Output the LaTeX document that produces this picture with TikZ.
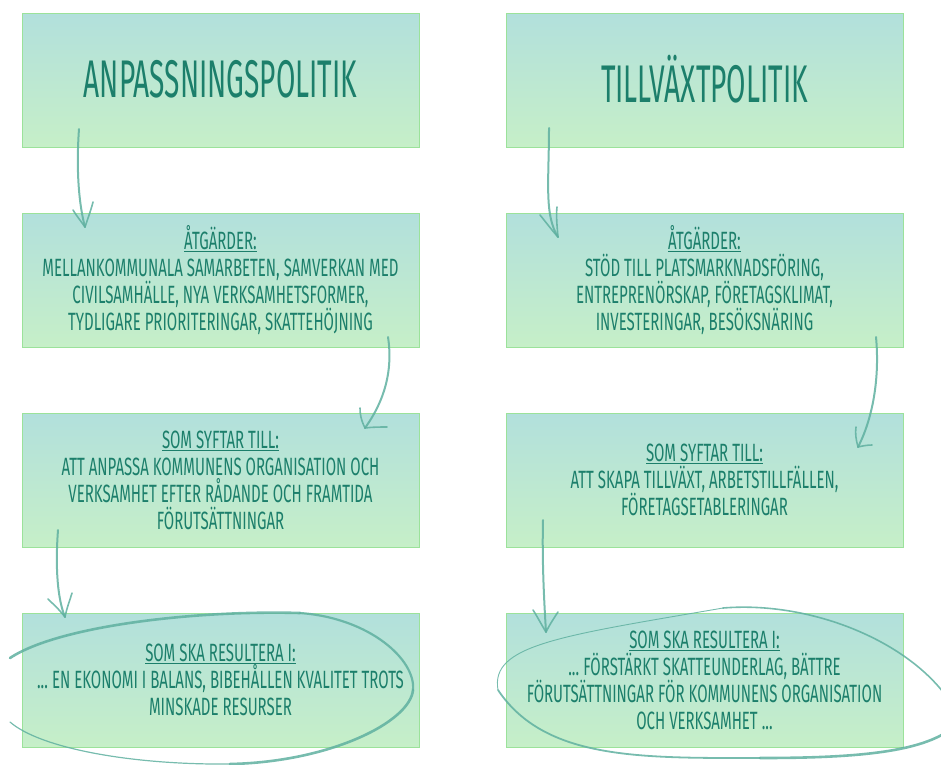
\documentclass[tikz,border=0pt]{standalone}
\usepackage{fontspec}
\setmainfont{Fira Sans}[FakeStretch=0.6]
\newfontfamily\titlefont{Fira Sans}[FakeStretch=0.53]
\definecolor{boxtop}{HTML}{B2E0DC}
\definecolor{boxbot}{HTML}{C6EFC8}
\definecolor{boxline}{HTML}{9BE29A}
\definecolor{txt}{HTML}{1C7F6B}
\definecolor{arr}{HTML}{5FB0A0}
\begin{document}
\begin{tikzpicture}[x=1pt,y=-1pt,
  panel/.style={draw=boxline, line width=1pt, top color=boxtop, bottom color=boxbot,
    minimum width=397pt, minimum height=134pt, inner sep=0pt, align=center,
    text=txt, font=\fontsize{25}{27}\selectfont},
  titlebox/.style={panel, font=\titlefont\fontsize{53}{60}\selectfont},
  hand/.style={draw=arr, opacity=0.85, line width=2pt, line cap=round},
  barb/.style={draw=arr, opacity=0.85, line width=1.6pt, line cap=round},
  loop/.style={draw=arr, opacity=0.85, line cap=round}]
\useasboundingbox (0,0) rectangle (941,764);
\clip (0,0) rectangle (941,764);
\newcommand{\hd}[1]{\underline{#1}}

\node[titlebox] (l1) at (220.5,80) {\raisebox{3pt}{ANPASSNINGSPOLITIK}};
\node[panel] (l2) at (220.5,280) {\hd{ÅTGÄRDER:}\\MELLANKOMMUNALA SAMARBETEN, SAMVERKAN MED\\CIVILSAMHÄLLE, NYA VERKSAMHETSFORMER,\\TYDLIGARE PRIORITERINGAR, SKATTEHÖJNING};
\node[panel] (l3) at (220.5,480) {\hd{SOM SYFTAR TILL:}\\ATT ANPASSA KOMMUNENS ORGANISATION OCH\\VERKSAMHET EFTER RÅDANDE OCH FRAMTIDA\\FÖRUTSÄTTNINGAR};
\node[panel] (l4) at (220.5,680) {\hd{SOM SKA RESULTERA I:}\\...\,EN EKONOMI I BALANS, BIBEHÅLLEN KVALITET TROTS\\MINSKADE RESURSER};

\node[titlebox] (r1) at (704.5,80) {\raisebox{3pt}{TILLVÄXTPOLITIK}};
\node[panel] (r2) at (704.5,280) {\hd{ÅTGÄRDER:}\\STÖD TILL PLATSMARKNADSFÖRING,\\ENTREPRENÖRSKAP, FÖRETAGSKLIMAT,\\INVESTERINGAR, BESÖKSNÄRING};
\node[panel] (r3) at (704.5,480) {\hd{SOM SYFTAR TILL:}\\ATT SKAPA TILLVÄXT, ARBETSTILLFÄLLEN,\\FÖRETAGSETABLERINGAR};
\node[panel] (r4) at (704.5,680) {\hd{SOM SKA RESULTERA I:}\\...\,FÖRSTÄRKT SKATTEUNDERLAG, BÄTTRE\\FÖRUTSÄTTNINGAR FÖR KOMMUNENS ORGANISATION\\OCH VERKSAMHET\,...};

% arrow end points
\coordinate (a1s) at (79,129);  \coordinate (a1t) at (85,227);
\coordinate (a2s) at (388,337); \coordinate (a2t) at (365,428);
\coordinate (a3s) at (58,530);  \coordinate (a3t) at (65,617);
\coordinate (a4s) at (549,128); \coordinate (a4t) at (558,237);
\coordinate (a5s) at (876,337); \coordinate (a5t) at (858,447);
\coordinate (a6s) at (543,520); \coordinate (a6t) at (546,632);

\draw[hand] (a1s) .. controls (76,170) and (79,205) .. (a1t);
\draw[barb] (a1t) .. controls (80,220) and (76,215) .. (73,210);
\draw[barb] (a1t) .. controls (88,218) and (91,210) .. (93,202);

\draw[hand] (a2s) .. controls (393,370) and (385,400) .. (a2t);
\draw[barb] (a2t) .. controls (361,420) and (360,414) .. (360,408);
\draw[barb] (a2t) .. controls (372,427) and (380,427) .. (387,427);

\draw[hand] (a3s) .. controls (55,570) and (58,600) .. (a3t);
\draw[barb] (a3t) .. controls (58,608) and (53,604) .. (48,599);
\draw[barb] (a3t) .. controls (67,607) and (70,600) .. (72,593);

\draw[hand] (a4s) .. controls (549,180) and (544,215) .. (a4t);
\draw[barb] (a4t) .. controls (550,228) and (545,221) .. (540,215);
\draw[barb] (a4t) .. controls (557,226) and (556,215) .. (557,207);

\draw[hand] (a5s) .. controls (880,380) and (872,420) .. (a5t);
\draw[barb] (a5t) .. controls (856,440) and (855,433) .. (856,427);
\draw[barb] (a5t) .. controls (862,446) and (867,445) .. (872,445);

\draw[hand] (a6s) .. controls (542,560) and (544,600) .. (a6t);
\draw[barb] (a6t) .. controls (541,624) and (537,616) .. (533,610);
\draw[barb] (a6t) .. controls (550,624) and (554,618) .. (558,612);

% left loop
\coordinate (ll1) at (10,658);
\coordinate (ll2) at (300,613);
\coordinate (ll3) at (413,690);
\coordinate (ll4) at (230,764);
\coordinate (ll5) at (10,722);
\draw[loop, line width=2.6pt] (ll1) .. controls (60,625) and (200,610) .. (ll2);
\draw[loop, line width=2.2pt] (ll2) .. controls (370,618) and (416,660) .. (ll3);
\draw[loop, line width=2.6pt] (ll3) .. controls (410,722) and (330,762) .. (ll4);
\draw[loop, line width=1.2pt] (ll4) .. controls (130,765) and (40,748) .. (ll5);

% right loop
\coordinate (rl1) at (960,720);
\coordinate (rl2) at (760,758);
\coordinate (rl3) at (498,690);
\coordinate (rl4) at (723,608);
\draw[loop, line width=2.6pt] (rl1) .. controls (935,752) and (860,758) .. (rl2);
\draw[loop, line width=1.8pt] (rl2) .. controls (640,758) and (545,760) .. (rl3);
\draw[loop, line width=0.9pt] (rl3) .. controls (490,645) and (560,636) .. (rl4);
\draw[loop, line width=1.6pt] (rl4) .. controls (820,600) and (930,650) .. (rl1);
\end{tikzpicture}
\end{document}
